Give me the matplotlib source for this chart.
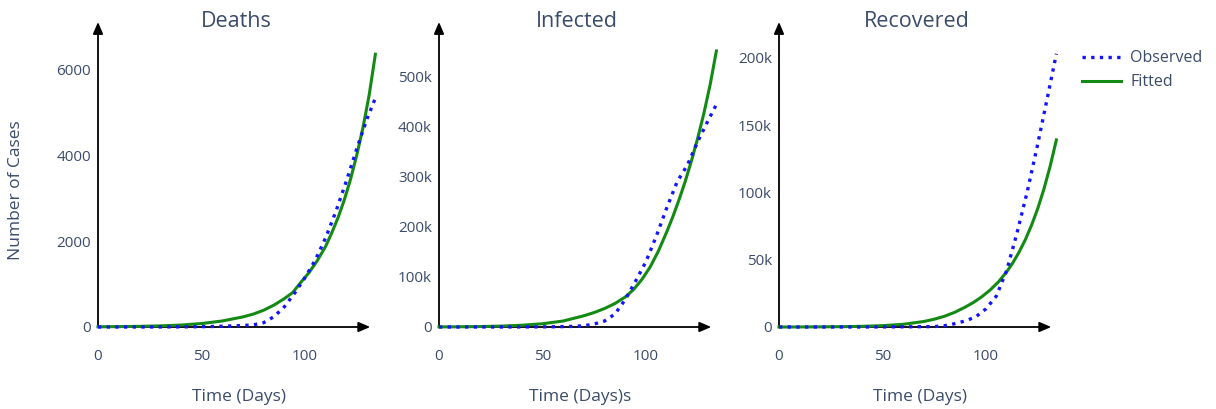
import matplotlib.pyplot as plt
from matplotlib.lines import Line2D
from matplotlib.ticker import FuncFormatter

plt.rcParams['font.family'] = ['Open Sans', 'DejaVu Sans']
text_col = '#3b4b6b'

# observed counts, every 5 days up to the last day of data
obs_days = [0, 5, 10, 15, 20, 25, 30, 35, 40, 45, 50, 55, 60, 65, 70, 75, 80,
            85, 90, 95, 100, 105, 110, 115, 120, 125, 130, 134]

deaths_obs = [0, 0, 0, 0, 0, 0, 1, 2, 3, 5, 8, 12, 18, 25, 35, 50, 100,
              240, 470, 790, 1150, 1560, 2080, 2700, 3400, 4150, 4850, 5330]
infected_obs = [0, 0, 0, 0, 10, 20, 40, 60, 100, 180, 300, 500, 800, 1300, 2500, 6000, 12000,
                26000, 55000, 92000, 131000, 182000, 238000, 290000, 324000, 371000, 413000, 445000]
recovered_obs = [0, 0, 0, 0, 0, 0, 0, 0, 0, 20, 50, 100, 150, 200, 250, 300, 1000,
                 2500, 4500, 7500, 13500, 23000, 42000, 70000, 101000, 136000, 173000, 203000]

# fitted model output, denser where the curves bend
fit_days = [0, 10, 20, 30, 40, 50, 60, 70, 75, 80, 85, 90, 94, 98, 102, 106, 110,
            113, 116, 119, 122, 125, 128, 131, 134]

deaths_fit = [5, 9, 15, 26, 45, 80, 140, 235, 300, 390, 510, 660, 800, 1040, 1270, 1550, 1880,
              2200, 2550, 2960, 3440, 4000, 4640, 5400, 6350]
infected_fit = [200, 450, 900, 1800, 3500, 6500, 12000, 22500, 29000, 37000, 47000, 60000, 75000,
                95000, 120000, 152000, 190000, 221000, 255000, 292000, 333000, 378000, 428000,
                485000, 552000]
recovered_fit = [0, 50, 120, 250, 500, 1000, 2000, 4100, 5800, 8000, 11000, 14800, 18300, 22500,
                 27500, 33500, 41000, 47800, 55700, 64900, 75600, 88000, 102600, 119500, 139000]

titles = ['Deaths', 'Infected', 'Recovered']
xlabels = ['Time (Days)', 'Time (Days)s', 'Time (Days)']
observed = [deaths_obs, infected_obs, recovered_obs]
fitted = [deaths_fit, infected_fit, recovered_fit]
y_tops = [7100, 610000, 226600]
y_ticks = [[0, 2000, 4000, 6000],
           [0, 100000, 200000, 300000, 400000, 500000],
           [0, 50000, 100000, 150000, 200000]]
x_ticks = [0, 50, 100]
x_end = 136
x_arrow = 131.5

W, H = 1216, 409
fig = plt.figure(figsize=(W / 100, H / 100), dpi=100)

lefts = [98, 439, 779]
ax_w = x_end * 2.07
bottom_px, top_px = 327, 22


def kfmt(v, pos):
    if v == 0:
        return '0'
    return f'{v / 1000:g}k'


arrow = dict(arrowstyle='-|>,head_length=0.7,head_width=0.3', color='black',
             lw=1.3, shrinkA=0, shrinkB=0)

for i in range(3):
    ax = fig.add_axes([lefts[i] / W, (H - bottom_px) / H, ax_w / W, (bottom_px - top_px) / H])
    ax.plot(fit_days, fitted[i], color='#138a13', lw=2.2, clip_on=False, zorder=3,
            solid_joinstyle='round')
    ax.plot(obs_days, observed[i], color='#1414ff', lw=2.4, ls=(0, (1, 1.6)), clip_on=False, zorder=4)
    ax.set_xlim(0, x_end)
    ax.set_ylim(0, y_tops[i])
    for s in ax.spines.values():
        s.set_visible(False)
    # axis arrows
    ax.annotate('', xy=(x_arrow, 0), xytext=(0, 0), arrowprops=arrow,
                annotation_clip=False, zorder=2)
    ax.annotate('', xy=(0, y_tops[i]), xytext=(0, 0), arrowprops=arrow,
                annotation_clip=False, zorder=2)
    ax.set_xticks(x_ticks)
    ax.set_yticks(y_ticks[i])
    if i > 0:
        ax.yaxis.set_major_formatter(FuncFormatter(kfmt))
    ax.tick_params(axis='x', length=0, pad=16, labelsize=11, labelcolor=text_col)
    ax.tick_params(axis='y', length=0, pad=5, labelsize=11, labelcolor=text_col)
    ax.set_xlabel(xlabels[i], fontsize=12.5, color=text_col, labelpad=18)
    ax.text(0.49, 1.0, titles[i], transform=ax.transAxes, ha='center', va='center',
            fontsize=15.5, color=text_col)

fig.text(16 / W, 1 - 190 / H, 'Number of Cases', rotation=90, ha='center', va='center',
         fontsize=12.5, color=text_col)

handles = [Line2D([], [], color='#1414ff', lw=2.4, ls=(0, (1, 1.6))),
           Line2D([], [], color='#138a13', lw=2.2)]
fig.legend(handles, ['Observed', 'Fitted'], loc='upper left', bbox_to_anchor=(1076 / W, 1 - 44 / H),
           frameon=False, fontsize=11.5, labelcolor=text_col, handlelength=2.4, handletextpad=0.6,
           labelspacing=0.5, borderaxespad=0)

fig.savefig('out.png', dpi=100, facecolor='white')
